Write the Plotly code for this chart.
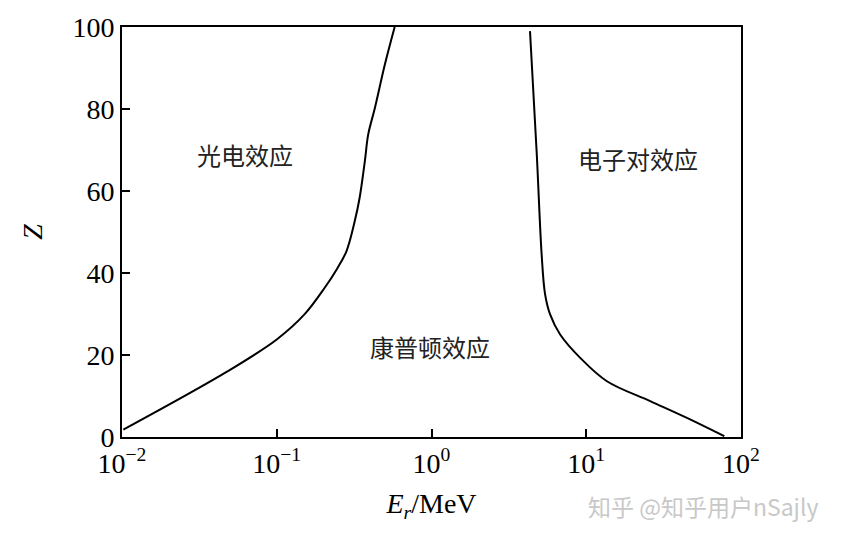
import math
import plotly.graph_objects as go

# photoelectric / compton boundary
pe_energy = [0.0102, 0.048, 0.1, 0.151, 0.204, 0.245, 0.282, 0.319, 0.343, 0.371, 0.39, 0.431, 0.5, 0.578]
pe_z = [1.8, 16.0, 23.8, 29.9, 36.4, 41.0, 45.3, 52.6, 58.3, 67.3, 73.8, 80.3, 90.9, 100]

# compton / pair production boundary
pair_energy = [4.33, 4.79, 5.15, 5.42, 5.84, 6.78, 9.14, 13.6, 26.1, 45.1, 78.0]
pair_z = [99.0, 68.9, 44.5, 34.8, 29.9, 25.0, 19.3, 13.6, 8.7, 4.6, 0.2]

region_names = ["光电效应", "康普顿效应", "电子对效应"]
region_x = [0.0623, 0.975, 21.6]
region_y = [68.8, 22.1, 68.0]

x_tickvals = [0.01, 0.1, 1, 10, 100]
x_ticktext = ["10<sup>−2</sup>", "10<sup>−1</sup>", "10<sup>0</sup>", "10<sup>1</sup>", "10<sup>2</sup>"]
y_tickvals = [0, 20, 40, 60, 80, 100]

serif = "Liberation Serif, DejaVu Serif, serif"
cjk = "Noto Sans CJK SC"

fig = go.Figure()
fig.add_scatter(x=pe_energy, y=pe_z, mode="lines",
                line=dict(color="black", width=2, shape="spline", smoothing=1))
fig.add_scatter(x=pair_energy, y=pair_z, mode="lines",
                line=dict(color="black", width=2, shape="spline", smoothing=1))

# annotations on a log axis take log10 positions
for name, xx, yy in zip(region_names, region_x, region_y):
    fig.add_annotation(x=math.log10(xx), y=yy, xref="x", yref="y", text=name, showarrow=False,
                       font=dict(family=cjk, size=24, color="#222"))

# watermark in the lower right
fig.add_annotation(x=1.128, y=-0.169, xref="paper", yref="paper",
                   xanchor="right", yanchor="middle",
                   text="知乎 @知乎用户nSajly", showarrow=False,
                   font=dict(family=cjk, size=23, color="#c8c8c8"))

fig.update_xaxes(type="log", range=[-2, 2], tickvals=x_tickvals, ticktext=x_ticktext,
                 ticks="inside", ticklen=8, tickwidth=1.5, tickcolor="black",
                 showline=True, linecolor="black", linewidth=2, mirror=True,
                 showgrid=False, zeroline=False, automargin=False,
                 tickfont=dict(family=serif, size=28, color="black"),
                 title=dict(text="<i>E</i><sub><i>r</i></sub>/MeV", standoff=16,
                            font=dict(family=serif, size=28, color="black")))
fig.update_yaxes(range=[0, 100], tickvals=y_tickvals,
                 ticks="inside", ticklen=8, tickwidth=1.5, tickcolor="black",
                 showline=True, linecolor="black", linewidth=2, mirror=True,
                 showgrid=False, zeroline=False, automargin=False,
                 tickfont=dict(family=serif, size=28, color="black"),
                 title=dict(text="<i>Z</i>", standoff=22,
                            font=dict(family=serif, size=28, color="black")))

fig.update_layout(width=842, height=540, showlegend=False,
                  plot_bgcolor="white", paper_bgcolor="white",
                  margin=dict(l=114, r=109, t=19, b=111))

fig.write_html("out.html")
